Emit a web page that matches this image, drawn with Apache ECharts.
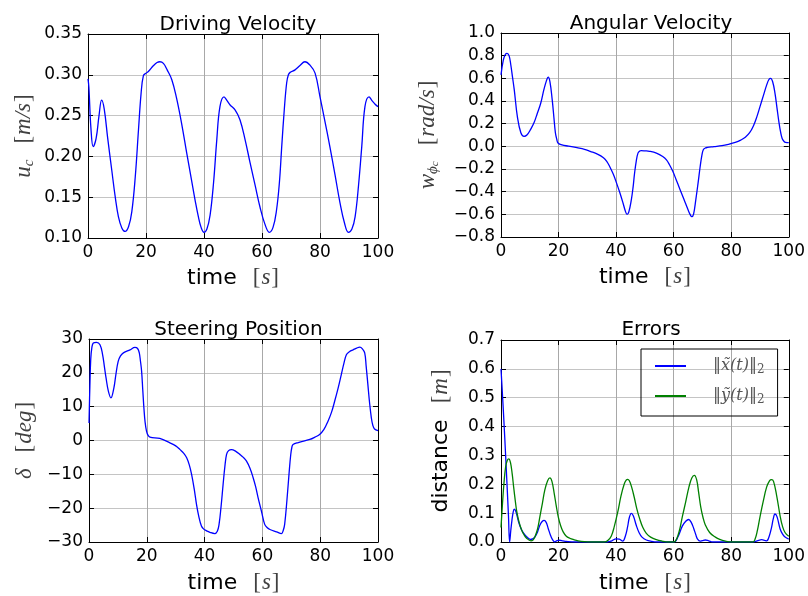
<!DOCTYPE html>
<html><head><meta charset="utf-8">
<script src="https://cdn.jsdelivr.net/npm/echarts/dist/echarts.min.js"></script>
<style>html,body{margin:0;padding:0;background:#fff}#c{width:808px;height:596px}</style>
</head><body><div id="c"></div>
<script>
// ---------------- data (time [s], value) ----------------
const drivingVelocity = [[0,0.295],[0.3,0.285],[1.0,0.235],[1.8,0.212],[2.8,0.222],[3.8,0.250],[4.7,0.269],[5.6,0.258],[6.8,0.222],[8.2,0.183],[9.4,0.150],[10.5,0.126],[11.7,0.112],[12.8,0.108],[14.0,0.114],[15.1,0.132],[16.3,0.175],[17.4,0.232],[18.3,0.277],[19.1,0.299],[20.0,0.302],[20.8,0.304],[22.5,0.311],[23.8,0.315],[24.8,0.316],[26.0,0.314],[27.3,0.306],[28.9,0.294],[30.5,0.272],[32.3,0.240],[34.0,0.205],[35.7,0.171],[37.0,0.145],[38.0,0.127],[39.0,0.113],[40.0,0.107],[41.0,0.111],[42.1,0.128],[43.3,0.168],[44.4,0.220],[45.5,0.261],[46.9,0.273],[48.0,0.268],[49.0,0.263],[50.7,0.257],[52.4,0.245],[54.2,0.220],[55.9,0.192],[57.6,0.165],[59.3,0.138],[61.0,0.117],[62.5,0.107],[63.8,0.113],[65.0,0.134],[66.0,0.168],[66.8,0.212],[67.7,0.258],[68.5,0.290],[69.1,0.300],[69.7,0.303],[71.4,0.306],[73.0,0.311],[74.8,0.316],[76.5,0.312],[78.3,0.302],[80.0,0.273],[81.7,0.243],[83.4,0.212],[85.2,0.177],[86.9,0.143],[88.4,0.119],[89.8,0.107],[91.0,0.111],[92.1,0.126],[93.3,0.165],[94.4,0.212],[95.5,0.261],[96.9,0.273],[98.0,0.268],[99.0,0.264],[100,0.261]];

const angularVelocity = [[0,0.63],[0.8,0.76],[1.5,0.81],[2.1,0.82],[2.8,0.80],[3.4,0.72],[4.0,0.61],[4.6,0.50],[5.7,0.26],[6.9,0.12],[8.0,0.088],[9.0,0.10],[10.3,0.15],[11.5,0.21],[12.6,0.29],[13.8,0.38],[14.9,0.50],[15.8,0.58],[16.4,0.61],[17.0,0.57],[17.8,0.41],[18.4,0.25],[18.9,0.12],[19.4,0.06],[19.8,0.03],[21.2,0.012],[23.5,0.002],[26.4,-0.012],[29,-0.026],[31,-0.044],[33.5,-0.068],[35.6,-0.10],[36.8,-0.135],[37.8,-0.18],[39.0,-0.245],[40.1,-0.32],[41.3,-0.41],[42.4,-0.50],[43.2,-0.57],[43.8,-0.60],[44.4,-0.58],[45.3,-0.47],[45.9,-0.36],[46.4,-0.24],[47.0,-0.13],[47.6,-0.06],[48.2,-0.042],[48.7,-0.038],[50,-0.04],[51.6,-0.044],[54,-0.06],[56.2,-0.09],[57.5,-0.12],[58.5,-0.16],[59.7,-0.22],[60.8,-0.29],[62.2,-0.38],[63.6,-0.47],[65.0,-0.56],[65.8,-0.605],[66.3,-0.62],[66.9,-0.60],[67.7,-0.47],[68.5,-0.32],[69.2,-0.18],[69.8,-0.08],[70.3,-0.03],[71.0,-0.015],[71.7,-0.01],[74,-0.003],[76.8,0.006],[79,0.018],[81.4,0.035],[83.3,0.055],[84.9,0.08],[86.4,0.12],[87.7,0.18],[88.9,0.26],[90,0.35],[91.2,0.45],[92.3,0.54],[93.1,0.59],[93.7,0.60],[94.4,0.57],[95.2,0.47],[95.9,0.34],[96.6,0.21],[97.2,0.12],[97.7,0.07],[98.3,0.045],[98.9,0.035],[100,0.033]];

const steeringPosition = [[0,5.2],[0.3,16],[0.6,24],[1.0,27.5],[1.5,28.8],[2.6,29.0],[3.8,28.3],[4.7,25.4],[5.3,22],[5.9,18.5],[6.7,14.6],[7.6,12.6],[8.6,15.5],[9.3,19.5],[10.1,23.4],[10.9,25],[11.9,25.9],[14.2,26.8],[15.9,27.5],[16.8,27.2],[17.4,25.9],[17.8,23.5],[18.2,20.5],[18.6,15],[19.0,9.6],[19.4,5.5],[19.9,2.8],[20.4,1.6],[21.1,1.0],[24.5,0.6],[28,-0.7],[30,-1.6],[31.5,-2.7],[32.8,-3.8],[33.8,-5.1],[34.7,-7.2],[35.5,-10],[36.4,-14.3],[37.2,-18.9],[38,-22.5],[38.9,-25.3],[39.7,-26.2],[40.7,-26.7],[42,-27.2],[43.5,-27.5],[44.4,-26.8],[45,-24.8],[45.7,-19.5],[46.4,-13],[47,-7.8],[47.6,-4.1],[48.3,-3.0],[49.3,-2.7],[50.8,-3.2],[52.2,-4.1],[53.4,-5],[54.5,-6.1],[55.7,-8.2],[56.8,-11],[57.7,-13.8],[58.5,-16.9],[59.7,-21],[60.8,-24.8],[61.7,-25.8],[62.6,-26.3],[64.9,-27],[66.6,-27.5],[67.2,-26.6],[67.7,-24.8],[68.5,-17.5],[69.2,-10],[69.8,-4.2],[70.2,-2],[70.6,-1.2],[72.4,-0.6],[76.4,0.3],[78.2,1],[79.8,1.8],[81.3,3.3],[82.7,5.7],[83.9,8.3],[85,11.6],[86.2,15.5],[87.3,19.5],[88.2,22.8],[89.1,25.4],[90.2,26.3],[91.4,26.8],[92.6,27.3],[93.7,27.6],[94.6,27.1],[95.4,25.9],[95.9,22],[96.5,16.5],[97.1,11],[97.7,6.7],[98.2,4.5],[98.8,3.4],[100,2.9]];

const errorX = [[0,0.60],[0.9,0.44],[1.8,0.26],[2.6,0.09],[3.0,0.0],[3.4,0.04],[3.8,0.075],[4.2,0.102],[4.6,0.114],[5.2,0.105],[6.1,0.07],[7.0,0.045],[7.9,0.03],[9.0,0.017],[10.2,0.009],[11.0,0.011],[11.8,0.018],[12.7,0.035],[13.5,0.058],[14.3,0.071],[15.0,0.075],[15.7,0.068],[16.4,0.047],[17.1,0.026],[17.8,0.010],[18.7,0.0],[19.5,0.005],[20.4,0.006],[21.5,0.004],[22.7,0.002],[25.6,0.0],[37.0,0.0],[38.5,0.004],[40.0,0.011],[41.1,0.010],[42.3,0.003],[43.2,0.02],[44.0,0.053],[44.6,0.085],[45.3,0.099],[46.0,0.09],[47.0,0.058],[48.0,0.032],[49.0,0.017],[50.5,0.007],[52.5,0.002],[54,0.0],[60.1,0.0],[61.5,0.018],[63,0.055],[64.2,0.072],[65.2,0.078],[66.1,0.068],[67,0.046],[67.7,0.025],[68.3,0.01],[69.2,0.003],[70,0.005],[71,0.007],[72.2,0.004],[73.5,0.0],[87.5,0.0],[89,0.004],[90.6,0.008],[91.6,0.006],[92.3,0.004],[93.2,0.02],[94,0.05],[94.6,0.08],[95.2,0.097],[95.9,0.088],[97,0.045],[97.8,0.028],[98.7,0.017],[100,0.01]];

const errorY = [[0,0.05],[0.5,0.13],[1.0,0.2],[1.6,0.26],[2.2,0.283],[2.7,0.288],[3.3,0.275],[3.9,0.235],[4.4,0.19],[5.0,0.14],[5.5,0.104],[6.3,0.068],[7.2,0.041],[8.0,0.025],[8.9,0.013],[10.4,0.004],[11.2,0.008],[11.8,0.018],[12.7,0.045],[13.5,0.087],[14.4,0.135],[15.2,0.179],[16.2,0.212],[17.0,0.222],[17.7,0.21],[18.5,0.168],[19.2,0.125],[19.9,0.087],[20.7,0.057],[21.6,0.035],[22.7,0.02],[23.9,0.013],[25.3,0.008],[26.8,0.004],[29,0.001],[31.4,0.0],[36,0.0],[37.1,0.005],[38.3,0.02],[39.4,0.055],[40.6,0.105],[41.7,0.16],[42.8,0.2],[43.5,0.214],[44.0,0.217],[44.6,0.212],[45.4,0.19],[46.3,0.155],[47.2,0.115],[48.2,0.08],[49.3,0.05],[50.5,0.03],[52,0.017],[54,0.008],[56,0.003],[58,0.0],[60,0.0],[61,0.01],[62,0.04],[63,0.087],[64.2,0.14],[65.3,0.19],[66.3,0.222],[67.2,0.231],[68,0.215],[68.7,0.17],[69.4,0.122],[70.2,0.085],[71,0.059],[72.5,0.033],[74.5,0.017],[76,0.009],[78,0.003],[80,0.0],[87.5,0.0],[88.3,0.01],[89.1,0.04],[90,0.087],[91.1,0.14],[92.3,0.19],[93.3,0.212],[94,0.216],[94.7,0.21],[95.8,0.16],[97,0.09],[97.8,0.055],[98.7,0.033],[100,0.02]];

const panelTitles = ['Driving Velocity', 'Angular Velocity', 'Steering Position', 'Errors'];
const yRanges = [[0.10, 0.35, 0.05, 2], [-0.8, 1.0, 0.2, 1], [-30, 30, 10, 0], [0, 0.7, 0.1, 1]];
const xRange = [0, 100, 20];

// ---------------- layout ----------------
const SANS = 'DejaVu Sans', SERIF = 'Liberation Serif';
const grids = [
  {left: 88, top: 34, width: 290, height: 204},
  {left: 501, top: 33, width: 290, height: 204},
  {left: 89, top: 339, width: 289, height: 203},
  {left: 501, top: 340, width: 290, height: 202}
];
const titleTops = [10, 9, 315, 315];
const yNames = [
  '{i|u}{s|c}{bl|[}{i|m/s}{b|]}',
  '{i|w}{s|ϕ}{ss|c}{bl|[}{i|rad/s}{b|]}',
  '{i|δ}{bl|[}{i|deg}{b|]}',
  '{d|distance}{bl|[}{i|m}{b|]}'
];
const yNameGaps = [51, 60, 51, 47];
const xNameGaps = [27, 27, 28, 28];

const MC = '#404040';
const mathRich = {
  i: {fontFamily: SERIF, fontStyle: 'italic', fontSize: 23, color: MC, lineHeight: 26},
  s: {fontFamily: SERIF, fontStyle: 'italic', fontSize: 15, color: MC, lineHeight: 15, verticalAlign: 'bottom'},
  ss: {fontFamily: SERIF, fontStyle: 'italic', fontSize: 11, color: MC, lineHeight: 11, verticalAlign: 'bottom'},
  bl: {fontFamily: SERIF, fontSize: 23, color: MC, lineHeight: 26, padding: [0, 1, 0, 16]},
  b: {fontFamily: SERIF, fontSize: 23, color: MC, lineHeight: 26, padding: [0, 0, 0, 1]},
  d: {fontFamily: SANS, fontSize: 22, color: '#000', lineHeight: 26},
  a: {fontFamily: SANS, fontSize: 22, color: '#000', lineHeight: 26}
};

function fmt(d) {
  return v => {
    const s = Math.abs(v) < 1e-9 ? (0).toFixed(d) : v.toFixed(d);
    return s.replace('-', '\u2212');
  };
}

const xAxes = [], yAxes = [];
grids.forEach((g, i) => {
  const tick = {inside: true, length: 5, lineStyle: {color: '#000', width: 1}};
  const line = {show: true, onZero: false, lineStyle: {color: '#000', width: 1}};
  xAxes.push({
    gridIndex: i, type: 'value', min: xRange[0], max: xRange[1], interval: xRange[2],
    axisLine: line, axisTick: tick,
    axisLabel: {margin: 6, color: '#000', fontFamily: SANS, fontSize: 17},
    splitLine: {show: true, lineStyle: {color: '#a8a8a8', width: 1}},
    name: '{a|time}{bl|[}{i|s}{b|]}', nameLocation: 'middle', nameGap: xNameGaps[i],
    nameTextStyle: {rich: mathRich}
  });
  xAxes.push({
    gridIndex: i, type: 'value', position: 'top', min: xRange[0], max: xRange[1], interval: xRange[2],
    axisLine: line, axisTick: tick, axisLabel: {show: false}, splitLine: {show: false}
  });
  const r = yRanges[i];
  yAxes.push({
    gridIndex: i, type: 'value', min: r[0], max: r[1], interval: r[2],
    axisLine: line, axisTick: tick,
    axisLabel: {margin: 6, color: '#000', fontFamily: SANS, fontSize: 17, formatter: fmt(r[3])},
    splitLine: {show: true, lineStyle: {color: '#c4c4c4', width: 1}},
    name: yNames[i], nameLocation: 'middle', nameGap: yNameGaps[i],
    nameTextStyle: {rich: mathRich}
  });
  yAxes.push({
    gridIndex: i, type: 'value', position: 'right', min: r[0], max: r[1], interval: r[2],
    axisLine: line, axisTick: tick, axisLabel: {show: false}, splitLine: {show: false}
  });
});

function lineSeries(name, data, idx, color) {
  return {
    name, type: 'line', xAxisIndex: 2 * idx, yAxisIndex: 2 * idx, data,
    showSymbol: false, smooth: 0.4, color,
    lineStyle: {color, width: 1.3}, animation: false, z: 3
  };
}

const legendRich = {
  n: {fontFamily: 'DejaVu Serif', fontSize: 16, color: '#555'},
  v: {fontFamily: 'DejaVu Serif', fontStyle: 'italic', fontSize: 16, color: '#555'},
  s: {fontFamily: 'DejaVu Serif', fontSize: 12, color: '#555', verticalAlign: 'bottom', lineHeight: 12}
};
const legendLabels = {ex: '{n|‖}{v|x\u0303(t)}{n|‖}{s|2}', ey: '{n|‖}{v|y\u0303(t)}{n|‖}{s|2}'};

const chart = echarts.init(document.getElementById('c'), null, {renderer: 'canvas'});
chart.setOption({
  backgroundColor: '#fff',
  animation: false,
  title: panelTitles.map((t, i) => ({
    text: t, left: grids[i].left + grids[i].width / 2, top: titleTops[i], textAlign: 'center',
    textStyle: {fontFamily: SANS, fontSize: 20, fontWeight: 'normal', color: '#000'}
  })),
  grid: grids.map(g => Object.assign({containLabel: false}, g)),
  xAxis: xAxes,
  yAxis: yAxes,
  legend: {
    data: ['ex', 'ey'], orient: 'vertical', left: 641, top: 349,
    padding: [7, 13, 10, 14], borderColor: '#000', borderWidth: 1, borderRadius: 0,
    itemWidth: 31, itemHeight: 2, icon: 'rect', itemGap: 10, selectedMode: false,
    formatter: n => legendLabels[n],
    textStyle: {padding: [0, 0, 0, 22], lineHeight: 20, rich: legendRich}
  },
  series: [
    lineSeries('u', drivingVelocity, 0, '#0000ff'),
    lineSeries('w', angularVelocity, 1, '#0000ff'),
    lineSeries('delta', steeringPosition, 2, '#0000ff'),
    lineSeries('ex', errorX, 3, '#0000ff'),
    lineSeries('ey', errorY, 3, '#008000')
  ]
});
</script></body></html>
